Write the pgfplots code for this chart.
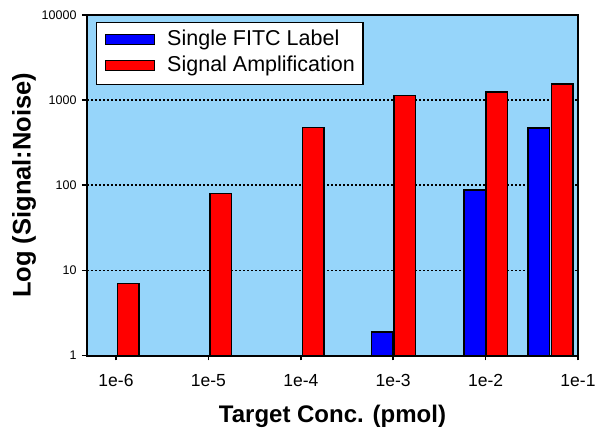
\documentclass[border=0pt]{standalone}
\usepackage{fontspec}
\setmainfont{Liberation Sans}
\usepackage{pgfplots}
\pgfplotsset{compat=1.18}
\definecolor{bgblue}{RGB}{150,213,250}
\definecolor{barblue}{RGB}{0,0,255}
\definecolor{barred}{RGB}{255,0,0}
\pgfplotsset{boxlegend/.style={legend image code/.code={\draw[##1,line width=1.5bp] (0bp,-4bp) rectangle (49bp,6bp);}}}
\begin{document}
\begin{tikzpicture}
\begin{axis}[
  scale only axis, width=491bp, height=340.5bp,
  ymode=log, ymin=1, ymax=10000,
  xmin=-0.314, xmax=5,
  xtick={0,1,2,3,4,5}, xticklabels={1e-6,1e-5,1e-4,1e-3,1e-2,1e-1},
  ytick={1,10,100,1000,10000}, yticklabels={1,10,100,1000,10000},
  yminorticks=false,
  axis background/.style={fill=bgblue},
  axis line style={line width=2bp},
  tick style={line width=1.5bp, black},
  tick align=outside, major tick length=5bp,
  xtick pos=left, ytick pos=left,
  ymajorgrids, grid style={black, line width=1.5bp, dash pattern=on 2bp off 2bp},
  ybar, bar width=21.5bp, bar shift=0pt,
  xticklabel style={font=\fontsize{17.5bp}{20bp}\selectfont, yshift=-10bp},
  yticklabel style={font=\fontsize{12.5bp}{14bp}\selectfont, xshift=-2bp},
  xlabel={Target Conc. (pmol)},
  ylabel={Log (Signal:Noise)},
  xlabel style={font=\fontsize{24bp}{28bp}\selectfont\bfseries, at={(axis description cs:0.5,0)}, anchor=center, yshift=-61bp},
  ylabel style={font=\fontsize{25.5bp}{28bp}\selectfont\bfseries, at={(axis description cs:0,0.5)}, anchor=center, yshift=63bp},
  legend style={at={(axis description cs:0,1)}, anchor=north west, xshift=9bp, yshift=-7bp,
    draw=black, line width=1.5bp, fill=white,
    font=\fontsize{21.5bp}{24bp}\selectfont,
    inner xsep=8bp, inner ysep=8bp, row sep=6bp,
    nodes={inner sep=0pt, text height=15bp, text depth=5bp},
    /tikz/every odd column/.append style={column sep=12bp}},
  legend cell align=left,
]
\addplot[fill=barblue, draw=black, line width=1.5bp, boxlegend]
  coordinates {(2.88,1.9) (3.88,88) (4.575,471)};
\addlegendentry{Single FITC Label}
\addplot[fill=barred, draw=black, line width=1.5bp, boxlegend]
  coordinates {(0.13,7) (1.135,80) (2.133,475) (3.126,1130) (4.122,1250) (4.832,1550)};
\addlegendentry{Signal Amplification}
\end{axis}
\pgfresetboundingbox
\useasboundingbox ([shift={(-87bp,-73.5bp)}]current axis.south west) rectangle ([shift={(28bp,15bp)}]current axis.north east);
\end{tikzpicture}
\end{document}
